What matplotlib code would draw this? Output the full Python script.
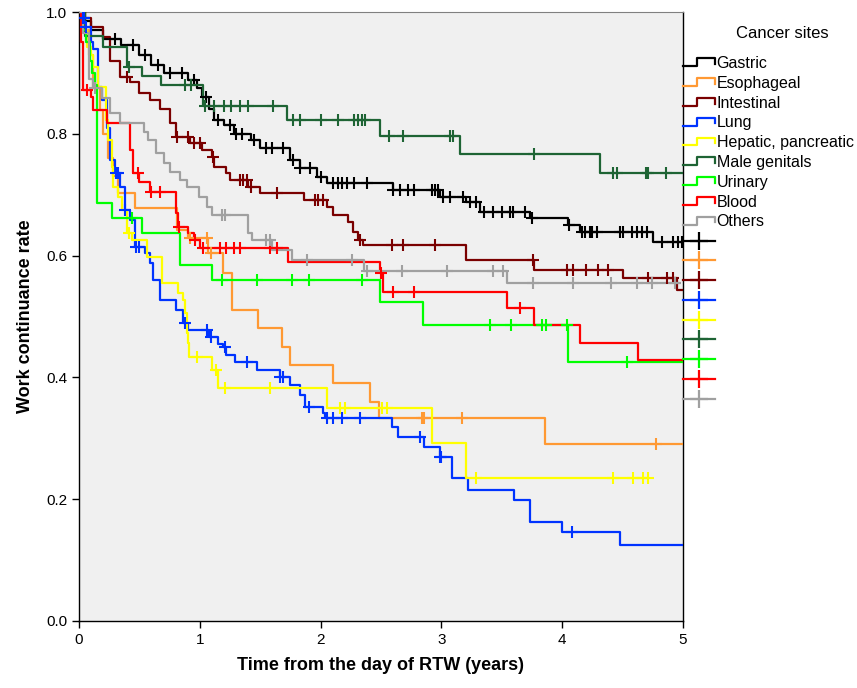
import numpy as np
import matplotlib
matplotlib.use("Agg")
import matplotlib.pyplot as plt
from matplotlib.lines import Line2D
from matplotlib.legend_handler import HandlerBase
from matplotlib import font_manager

names = {f.name for f in font_manager.fontManager.ttflist}
NARROW = 'Liberation Sans Narrow' if 'Liberation Sans Narrow' in names else 'Liberation Sans'
plt.rcParams['font.family'] = ['Liberation Sans', 'DejaVu Sans']

groups = ["Gastric", "Esophageal", "Intestinal", "Lung", "Hepatic, pancreatic",
          "Male genitals", "Urinary", "Blood", "Others"]
colors = ["#000000", "#ff9933", "#7a0000", "#0033ff", "#ffff00",
          "#1e6434", "#00ff00", "#ff0000", "#a0a0a0"]

# Gastric
g_t = [0.05,0.1,0.2,0.35,0.5,0.6,0.7,0.9,0.98,1.02,1.08,1.12,1.2,1.28,1.42,1.5,1.75,1.83,1.97,2.05,2.6,2.99,3.2,3.32,3.73,4.05,4.15,4.75]
g_s = [0.985,0.97,0.955,0.945,0.93,0.913,0.9,0.888,0.875,0.86,0.84,0.823,0.815,0.8,0.79,0.777,0.757,0.744,0.729,0.719,0.708,0.696,0.688,0.672,0.662,0.65,0.639,0.622]
g_c = [0.3,0.45,0.55,0.65,0.75,0.85,0.95,1.05,1.15,1.25,1.3,1.35,1.45,1.55,1.6,1.69,1.77,1.83,1.91,2.0,2.1,2.14,2.18,2.22,2.28,2.38,2.6,2.66,2.72,2.77,2.92,2.95,2.97,3.01,3.07,3.18,3.24,3.29,3.35,3.43,3.5,3.57,3.59,3.69,3.75,4.06,4.16,4.19,4.23,4.25,4.29,4.48,4.5,4.58,4.62,4.66,4.7,4.83,4.92,4.96,4.99]
g_end = 5.0

# Esophageal
e_t = [0.03,0.08,0.12,0.17,0.2,0.24,0.28,0.32,0.46,0.81,0.9,1.07,1.19,1.27,1.48,1.68,1.75,2.1,2.41,2.48,3.86]
e_s = [0.97,0.93,0.875,0.839,0.8,0.76,0.73,0.703,0.678,0.642,0.629,0.604,0.571,0.51,0.481,0.45,0.42,0.39,0.36,0.333,0.29]
e_c = [0.92,1.06,1.09,2.84,2.86,3.17,4.78]
e_end = 5.0

# Intestinal
i_t = [0.05,0.1,0.2,0.26,0.34,0.42,0.5,0.59,0.67,0.75,0.8,0.92,1.02,1.1,1.12,1.22,1.25,1.4,1.5,1.86,2.05,2.1,2.23,2.27,2.31,2.35,3.2,3.77,4.5,4.95]
i_s = [0.99,0.975,0.959,0.92,0.893,0.885,0.867,0.855,0.84,0.818,0.795,0.785,0.773,0.762,0.745,0.736,0.724,0.713,0.703,0.691,0.68,0.667,0.655,0.639,0.626,0.617,0.593,0.576,0.563,0.543]
i_c = [0.4,0.81,0.9,0.95,1.0,1.11,1.33,1.36,1.39,1.42,1.64,1.95,1.98,2.02,2.33,2.59,2.68,2.95,3.76,4.04,4.09,4.2,4.3,4.38,4.71,4.87,4.92]
i_end = 5.0

# Lung
l_t = [0.02,0.05,0.1,0.12,0.16,0.19,0.23,0.26,0.3,0.34,0.38,0.42,0.46,0.55,0.59,0.61,0.67,0.8,0.86,0.9,1.08,1.15,1.19,1.22,1.29,1.47,1.66,1.75,1.83,1.87,2.02,2.04,2.59,2.64,2.86,2.99,3.09,3.22,3.6,3.73,4.0,4.48]
l_s = [0.99,0.975,0.95,0.94,0.877,0.855,0.81,0.757,0.736,0.713,0.675,0.658,0.614,0.605,0.588,0.56,0.527,0.51,0.489,0.478,0.466,0.455,0.45,0.437,0.425,0.412,0.4,0.388,0.371,0.351,0.342,0.333,0.319,0.302,0.286,0.27,0.235,0.215,0.199,0.163,0.146,0.125]
l_c = [0.03,0.04,0.06,0.31,0.32,0.38,0.47,0.5,0.88,1.06,1.09,1.21,1.39,1.66,1.69,1.9,2.05,2.1,2.18,2.33,2.82,2.99,3.0,4.08]
l_end = 5.0

# Hepatic, pancreatic
h_t = [0.03,0.07,0.1,0.12,0.16,0.22,0.24,0.27,0.28,0.32,0.36,0.4,0.44,0.56,0.69,0.82,0.86,0.88,0.89,0.9,0.91,1.1,1.15,2.05,2.92,3.2]
h_s = [0.97,0.943,0.93,0.91,0.877,0.823,0.79,0.745,0.713,0.696,0.675,0.637,0.626,0.598,0.555,0.539,0.527,0.506,0.473,0.456,0.434,0.412,0.383,0.35,0.292,0.235]
h_c = [0.41,0.98,1.13,1.21,1.58,2.16,2.2,2.51,2.55,3.29,4.42,4.59,4.67,4.71]
h_end = 4.71

# Male genitals
m_t = [0.05,0.2,0.4,0.52,0.68,1.03,1.72,2.49,3.15,4.31]
m_s = [0.96,0.942,0.91,0.895,0.88,0.845,0.823,0.796,0.767,0.736]
m_c = [0.41,0.88,0.93,1.04,1.12,1.2,1.26,1.33,1.4,1.61,1.77,1.83,2.0,2.14,2.28,2.31,2.34,2.37,2.57,2.68,3.07,3.1,3.77,4.42,4.45,4.69,4.71,4.86]
m_end = 5.0

# Urinary
u_t = [0.03,0.06,0.09,0.11,0.13,0.15,0.27,0.52,0.84,1.1,2.49,2.85,4.05]
u_s = [0.97,0.95,0.92,0.9,0.88,0.686,0.661,0.637,0.585,0.56,0.524,0.486,0.425]
u_c = [0.44,1.18,1.47,1.76,1.9,2.34,3.4,3.58,3.83,3.87,4.04,4.54]
u_end = 5.0

# Blood
b_t = [0.02,0.03,0.1,0.12,0.23,0.42,0.45,0.5,0.59,0.8,0.82,0.9,0.95,1.0,1.73,2.49,2.52,3.54,3.77,4.15,4.63]
b_s = [0.95,0.872,0.86,0.839,0.818,0.773,0.736,0.721,0.705,0.67,0.647,0.637,0.626,0.612,0.59,0.571,0.54,0.514,0.486,0.456,0.428]
b_c = [0.07,0.49,0.6,0.67,0.83,0.96,1.03,1.17,1.22,1.28,1.33,1.58,1.64,2.5,2.6,2.77,3.65]
b_end = 5.0

# Others
o_t = [0.03,0.08,0.12,0.19,0.26,0.34,0.54,0.57,0.64,0.7,0.75,0.84,0.89,0.99,1.06,1.1,1.4,1.43,1.6,1.76,2.36,3.54]
o_s = [0.966,0.89,0.875,0.859,0.834,0.818,0.803,0.79,0.768,0.752,0.737,0.724,0.713,0.696,0.68,0.667,0.637,0.626,0.609,0.593,0.574,0.555]
o_c = [0.13,1.18,1.21,1.55,1.58,1.89,2.26,2.38,2.67,3.05,3.43,3.51,3.76,4.09,4.4,4.62,4.74,4.93]
o_end = 4.97

curves = [(g_t, g_s, g_c, g_end), (e_t, e_s, e_c, e_end), (i_t, i_s, i_c, i_end),
          (l_t, l_s, l_c, l_end), (h_t, h_s, h_c, h_end), (m_t, m_s, m_c, m_end),
          (u_t, u_s, u_c, u_end), (b_t, b_s, b_c, b_end), (o_t, o_s, o_c, o_end)]

x_ticks = [0, 1, 2, 3, 4, 5]
y_ticks = [0.0, 0.2, 0.4, 0.6, 0.8, 1.0]

fig = plt.figure(figsize=(8.57, 6.88), dpi=100)
ax = fig.add_axes([79/857, 1-621/688, 604/857, 609/688])
ax.set_facecolor('#f0f0f0')

LW = 1.6
for (t, s, c, end), col in zip(curves, colors):
    tt = np.concatenate([[0.0], t, [end]])
    ss = np.concatenate([[1.0], s, [s[-1]]])
    ax.step(tt, ss, where='post', color=col, lw=LW, zorder=3)
    c = np.asarray(c)
    idx = np.searchsorted(tt, c, side='right') - 1
    ax.plot(c, ss[idx], linestyle='none', marker='+', color=col,
            markersize=9, mew=1.5, zorder=4)

ax.set_xlim(0, 5)
ax.set_ylim(0, 1.0)
ax.set_xticks(x_ticks)
ax.set_xticklabels([str(v) for v in x_ticks])
ax.set_yticks(y_ticks)
ax.set_yticklabels([f"{v:.1f}" for v in y_ticks])
ax.tick_params(direction='out', length=5, width=1, labelsize=11, colors='black')
for lab in ax.get_xticklabels() + ax.get_yticklabels():
    lab.set_fontfamily([NARROW, 'DejaVu Sans'])
for sp in ['left', 'bottom', 'right']:
    ax.spines[sp].set_color('black')
    ax.spines[sp].set_linewidth(1.0)
ax.spines['top'].set_color('#808080')

ax.set_xlabel("Time from the day of RTW (years)", fontsize=13, fontweight='bold',
              family=[NARROW, 'DejaVu Sans'], labelpad=7)
ax.set_ylabel("Work continuance rate", fontsize=13, fontweight='bold',
              family=[NARROW, 'DejaVu Sans'], labelpad=9)


class StepHandler(HandlerBase):
    def create_artists(self, legend, orig_handle, xdescent, ydescent, width, height, fontsize, trans):
        x0, y0 = -xdescent, -ydescent
        xs = [x0, x0 + 0.45*width, x0 + 0.45*width, x0 + width, x0 + width]
        ys = [y0 + 0.15*height, y0 + 0.15*height, y0 + 0.85*height, y0 + 0.85*height, y0 + 0.35*height]
        ln = Line2D(xs, ys, color=orig_handle.get_color(), lw=LW, transform=trans)
        return [ln]


class StepProxy(Line2D):
    pass


step_handles = [StepProxy([], [], color=c) for c in colors]
cens_handles = [Line2D([], [], color=c, lw=LW, marker='+', markersize=13, mew=1.6) for c in colors]
handles = step_handles + cens_handles
labels = groups + [""] * len(colors)

leg = fig.legend(handles, labels, loc='upper left', bbox_to_anchor=(683/857, 1-56/688),
                 frameon=False, fontsize=11.5,
                 handlelength=2.0, handletextpad=0.1, labelspacing=0.3, borderpad=0,
                 borderaxespad=0, numpoints=1, handler_map={StepProxy: StepHandler()})
fig.text(782/857, 1-33/688, "Cancer sites", ha='center', va='center', fontsize=12)

fig.savefig("out.png", dpi=100)
